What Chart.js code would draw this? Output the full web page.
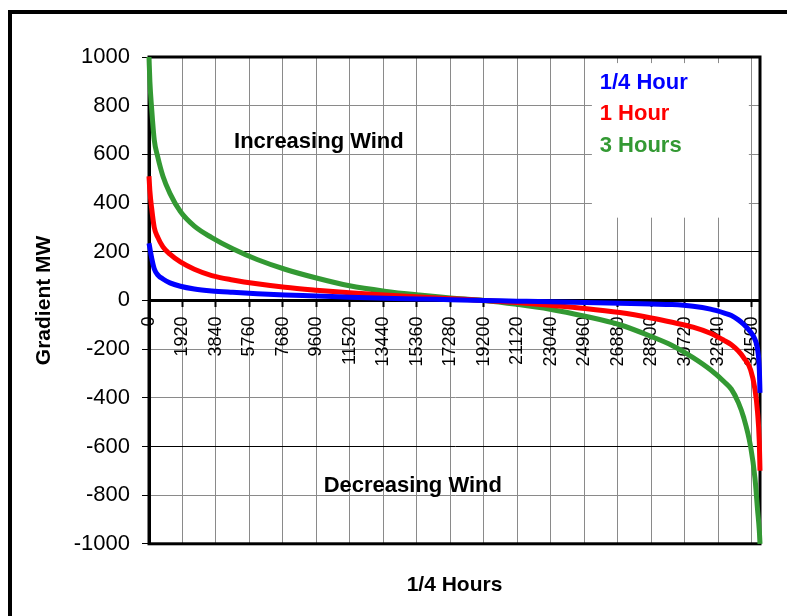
<!DOCTYPE html>
<html>
<head>
<meta charset="utf-8">
<script src="https://cdn.jsdelivr.net/npm/chart.js@4.4.1/dist/chart.umd.min.js"></script>
<style>
	body { margin: 0; overflow: hidden; background: #fff; }
	#marco { position: absolute; left: 8px; top: 10px; width: 900px; height: 700px; border-left: 4px solid #000; border-top: 4px solid #000; }
	#cnvGradiente { position: absolute; left: 0; top: 0; }
</style>
</head>
<body>
<div id="marco"></div>
<canvas id="cnvGradiente" width="787" height="616"></canvas>
<script>
// 1/4 hour steps, sorted (duration curve)
var horas = [0, 50, 150, 300, 500, 800, 1200, 1800, 2600, 3600, 4800, 6200, 7800, 9600, 11500, 13500, 15500, 17300, 19200,
	21100, 23000, 25000, 27000, 28800, 30000, 31200, 32200, 33000, 33400, 33800, 34100, 34500, 34750, 34900, 35000, 35040];
var cuartoHora = [235, 215, 175, 130, 105, 88, 72, 58, 47, 39, 33, 27, 22, 18, 13, 9, 6, 3, 0,
	-3, -6, -9, -12, -15, -17, -24, -36, -52, -62, -80, -98, -130, -160, -200, -280, -380];
var unaHora = [510, 450, 380, 300, 260, 220, 190, 158, 128, 102, 84, 68, 54, 42, 31, 22, 14, 7, 0,
	-9, -20, -33, -50, -72, -90, -110, -135, -165, -182, -208, -235, -285, -365, -460, -580, -700];
var tresHoras = [1000, 900, 790, 660, 590, 510, 440, 365, 305, 258, 212, 168, 128, 92, 60, 38, 22, 10, 0,
	-16, -36, -65, -100, -148, -185, -235, -285, -335, -365, -420, -480, -600, -730, -860, -945, -1000];

var etiquetasX = [0, 1920, 3840, 5760, 7680, 9600, 11520, 13440, 15360, 17280, 19200, 21120, 23040, 24960, 26880, 28800, 30720, 32640, 34560];
var etiquetasY = [-1000, -800, -600, -400, -200, 0, 200, 400, 600, 800, 1000];

var series = ["1/4 Hour", "1 Hour", "3 Hours"];
var colores = ["#0000ff", "#ff0000", "#339933"];

// notes placed in data units
var notas = [
	{ texto: "Increasing Wind", x: 9743, y: 650 },
	{ texto: "Decreasing Wind", x: 15130, y: -761 }
];
var leyendaX = 25850;
var leyendaY = [893, 766, 634];
var cajaLeyenda = { x0: 25400, x1: 34400, y0: 975, y1: 340 };

var fuente = "'Liberation Sans', Arial, sans-serif";

function puntos(valores){
	return horas.map(function(h, i){ return { x: h, y: valores[i] }; });
}

var notasPlugin = {
	id: "notas",
	beforeDatasetsDraw: function(chart){
		var ctx = chart.ctx, a = chart.chartArea, sx = chart.scales.x, sy = chart.scales.y;
		ctx.save();
		// white box behind the legend
		var bx0 = sx.getPixelForValue(cajaLeyenda.x0), bx1 = sx.getPixelForValue(cajaLeyenda.x1);
		var by0 = sy.getPixelForValue(cajaLeyenda.y0), by1 = sy.getPixelForValue(cajaLeyenda.y1);
		ctx.fillStyle = "#fff";
		ctx.fillRect(bx0, by0, bx1 - bx0, by1 - by0);
		// plot frame
		ctx.strokeStyle = "#000";
		ctx.lineWidth = 3;
		ctx.strokeRect(a.left, a.top, a.right - a.left, a.bottom - a.top);
		ctx.textBaseline = "middle";
		ctx.font = "bold 22px " + fuente;
		ctx.fillStyle = "#000";
		ctx.textAlign = "center";
		notas.forEach(function(n){
			ctx.fillText(n.texto, sx.getPixelForValue(n.x), sy.getPixelForValue(n.y));
		});
		ctx.textAlign = "left";
		series.forEach(function(s, i){
			ctx.fillStyle = colores[i];
			ctx.fillText(s, sx.getPixelForValue(leyendaX), sy.getPixelForValue(leyendaY[i]));
		});
		ctx.restore();
	}
};

var datos = {
	datasets: [
		{ label: series[0], data: puntos(cuartoHora), borderColor: colores[0] },
		{ label: series[1], data: puntos(unaHora), borderColor: colores[1] },
		{ label: series[2], data: puntos(tresHoras), borderColor: colores[2] }
	].map(function(d){
		d.borderWidth = 5;
		d.pointRadius = 0;
		d.fill = false;
		d.cubicInterpolationMode = "monotone";
		d.clip = false;
		return d;
	})
};

new Chart(document.getElementById("cnvGradiente").getContext("2d"), {
	type: "line",
	data: datos,
	plugins: [notasPlugin],
	options: {
		responsive: false,
		animation: false,
		devicePixelRatio: 1,
		layout: { padding: { top: 57, right: 27, left: 0, bottom: 0 } },
		plugins: {
			legend: { display: false },
			tooltip: { enabled: false },
			title: {
				display: true,
				text: "1/4 Hours",
				position: "bottom",
				fullSize: false,
				color: "#000",
				font: { family: fuente, size: 21, weight: "bold" },
				padding: { top: 29, bottom: 18 }
			}
		},
		scales: {
			x: {
				type: "linear",
				min: 0,
				max: 35040,
				position: { y: 0 },
				afterFit: function(s){ s.height = 0; },
				afterBuildTicks: function(s){ s.ticks = etiquetasX.map(function(v){ return { value: v }; }); },
				ticks: {
					autoSkip: false,
					minRotation: 90,
					maxRotation: 90,
					padding: 11,
					color: "#000",
					font: { family: fuente, size: 18 },
					callback: function(v){ return String(v); }
				},
				grid: { color: "#8a8a8a", lineWidth: 1, tickColor: "#000", tickLength: 5, tickWidth: 2 },
				border: { color: "#000", width: 3 }
			},
			y: {
				min: -1000,
				max: 1000,
				afterFit: function(s){ s.width = 149; },
				afterBuildTicks: function(s){ s.ticks = etiquetasY.map(function(v){ return { value: v }; }); },
				ticks: {
					padding: 12,
					color: "#000",
					font: { family: fuente, size: 22 },
					callback: function(v){ return String(v); }
				},
				grid: {
					color: function(c){ return (c.tick && (c.tick.value === 200 || c.tick.value === -600)) ? "#000" : "#8a8a8a"; },
					lineWidth: 1,
					tickColor: "#000",
					tickLength: 7
				},
				border: { color: "#000", width: 3 },
				title: {
					display: true,
					text: "Gradient MW",
					color: "#000",
					font: { family: fuente, size: 21, weight: "bold" },
					padding: { top: 32, bottom: 0 }
				}
			}
		}
	}
});
</script>
</body>
</html>
